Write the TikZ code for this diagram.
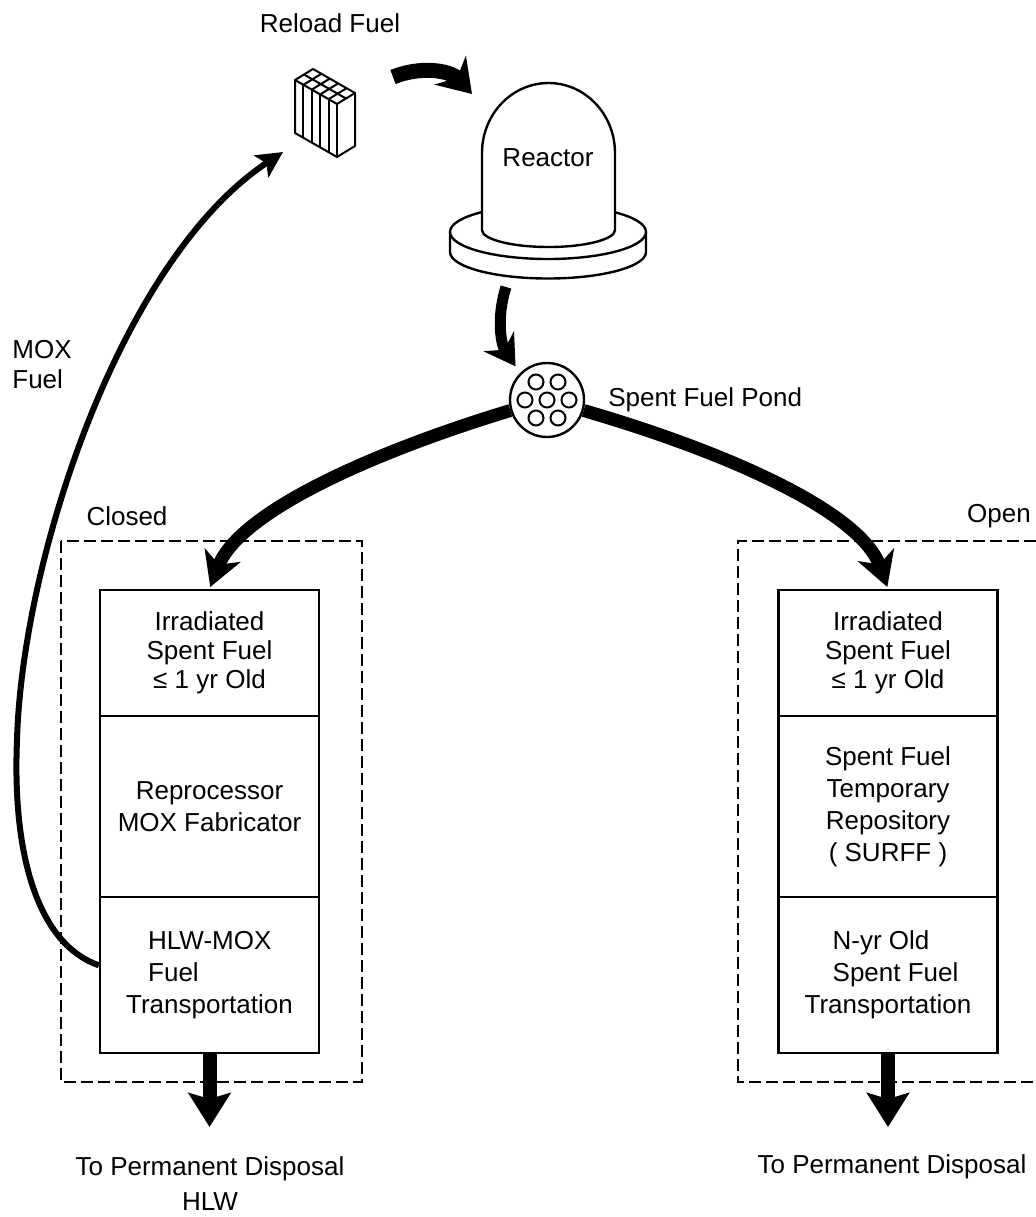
\documentclass[tikz,border=0pt]{standalone}
\usepackage{fontspec}
\setmainfont{Liberation Sans}
\usetikzlibrary{arrows.meta}
\begin{document}
\begin{tikzpicture}[x=0.5pt,y=-0.5pt,
  txt/.style={font=\fontsize{13pt}{16pt}\selectfont, inner sep=0pt, align=center},
  stage/.style={draw, line width=1.1pt, minimum width=109.5pt, inner sep=0pt,
                font=\fontsize{13pt}{16pt}\selectfont, align=center},
  zone/.style={draw, line width=1.1pt, dash pattern=on 6pt off 2.5pt},
  outline/.style={line width=1.2pt, line join=round},
  flow/.style={line width=#1, -{Stealth[length=17pt,width=19pt,inset=5pt]}},
]
\useasboundingbox (0,0) rectangle (1036,1217);

% ---------- fuel assembly ----------
\begin{scope}[line width=1pt, line join=round]
  \filldraw[fill=white] (295,80) -- (313,69) -- (355,93) -- (355,146) -- (337,157) -- (295,133) -- cycle;
  \draw (295,80) -- (337,104) -- (355,93);
  \draw (337,104) -- (337,157);
  \foreach \k in {1,...,4} {
    \draw ({295+8.4*\k},{80+4.8*\k}) -- ++(0,53);
    \draw ({295+8.4*\k},{80+4.8*\k}) -- ++(18,-11);
  }
  \draw (304,74.5) -- (346,98.5);
\end{scope}
\node[txt] (reloadlbl) at (330,23) {Reload Fuel};

% ---------- reactor ----------
\filldraw[outline, fill=white] (450,232) -- (450,252)
  arc[start angle=180, end angle=360, x radius=49pt, y radius=13.25pt] -- (646,232)
  arc[start angle=0, end angle=180, x radius=49pt, y radius=13.5pt] -- cycle;
\draw[outline] (450,232) arc[start angle=180, end angle=360, x radius=49pt, y radius=13.5pt];
\filldraw[outline, fill=white] (482,230) -- (482,153)
  arc[start angle=180, end angle=0, x radius=33.25pt, y radius=35pt] -- (615,230)
  arc[start angle=0, end angle=-180, x radius=33.25pt, y radius=8.5pt] -- cycle;
\node[txt] (reactor) at (548,158) {Reactor};

% ---------- spent fuel pond ----------
\node[draw, circle, line width=1.2pt, minimum size=37pt, inner sep=0pt] (pond) at (547,400) {};
\foreach \dx/\dy in {-11/-18, 11/-18, -22/0, 0/0, 22/0, -11/18, 11/18}
  \draw[line width=1pt] ({547+\dx},{400+\dy}) circle[radius=3.75pt];
\node[txt, anchor=west] (pondlbl) at (608,400) {Spent Fuel Pond};

% ---------- closed cycle ----------
\draw[zone] (61,541) rectangle (362,1082);
\node[txt] (closedlbl) at (127,516) {Closed};
\node[stage, minimum height=63pt, font=\fontsize{13pt}{14.5pt}\selectfont] (lc1) at (209.5,653)
  {Irradiated\\Spent Fuel\\≤ 1 yr Old};
\node[stage, minimum height=90.5pt] (lc2) at (209.5,806.5) {Reprocessor\\MOX Fabricator};
\node[stage, minimum height=78pt] (lc3) at (209.5,975) {};
\node[txt, align=left] (lc3txt) at (lc3) {\hspace*{11pt}HLW-MOX\\\hspace*{11pt}Fuel\\Transportation};

% ---------- open cycle ----------
\draw[zone] (1036,541) -- (738,541) -- (738,1082) -- (1036,1082);
\node[txt] (openlbl) at (999,516) {Open};
\node[stage, minimum height=63pt, font=\fontsize{13pt}{14.5pt}\selectfont] (rc1) at (888,653)
  {Irradiated\\Spent Fuel\\≤ 1 yr Old};
\node[stage, minimum height=90.5pt] (rc2) at (888,806.5)
  {Spent Fuel\\Temporary\\Repository\\( SURFF )};
\node[stage, minimum height=78pt] (rc3) at (888,975) {};
\node[txt, align=left] (rc3txt) at (rc3) {\hspace*{14pt}N-yr Old\\\hspace*{14pt}Spent Fuel\\Transportation};

% ---------- labels ----------
\node[txt, anchor=west, align=left, font=\fontsize{13pt}{15pt}\selectfont] (moxlbl) at (12,365) {MOX\\Fuel};
\node[txt, font=\fontsize{13pt}{17.5pt}\selectfont] (leftdisp) at (210,1184) {To Permanent Disposal\\HLW};
\node[txt] (rightdisp) at (892,1167) {To Permanent Disposal};

% ---------- connectors ----------
\coordinate (reloadtail) at (393,77);
\coordinate (reloadtip) at (472,94);
\coordinate (reactorout) at (506,287);
\coordinate (moxtip) at (283,152);
\coordinate (lout) at (209.5,1127);
\coordinate (rout) at (888,1127);

\draw[line width=7.5pt, -{Stealth[length=16pt,width=21pt,inset=5pt]}]
  (reloadtail) .. controls (420,66) and (450,70) .. (reloadtip);
\draw[line width=5.5pt, -{Stealth[length=15pt,width=18pt,inset=5pt]}, shorten >=4pt]
  (reactorout) .. controls (497,315) and (500,343) .. (pond.135);
\draw[flow=6.5pt, shorten >=1pt] (pond.196) .. controls (380,450) and (240,510) .. (lc1.north);
\draw[flow=6.5pt, shorten >=1pt] (pond.-16) .. controls (720,450) and (860,510) .. (rc1.north);
\draw[line width=3pt, -{Stealth[length=13pt,width=13pt,inset=3pt]}]
  (lc3.175) .. controls (40,945) and (12,860) .. (17,740)
  .. controls (22,560) and (120,260) .. (moxtip);
\draw[line width=7pt, -{Stealth[length=17pt,width=21pt,inset=3pt]}] (lc3.south) -- (lout);
\draw[line width=7pt, -{Stealth[length=17pt,width=21pt,inset=3pt]}] (rc3.south) -- (rout);

\end{tikzpicture}
\end{document}
